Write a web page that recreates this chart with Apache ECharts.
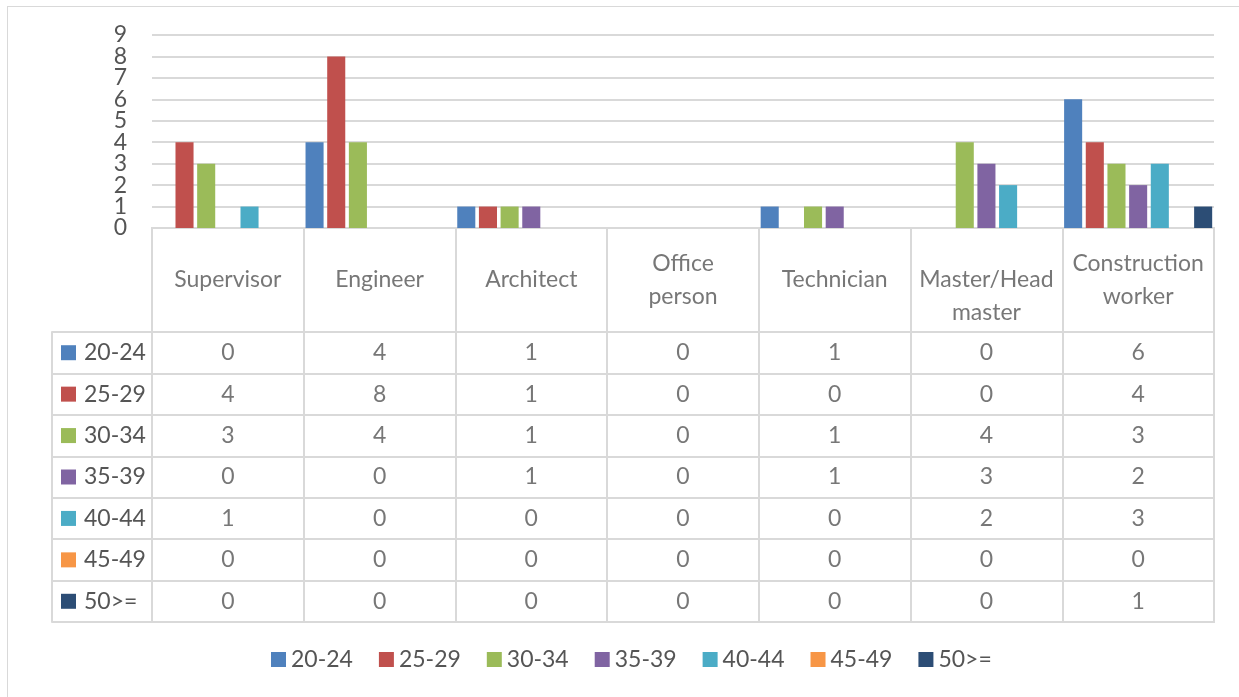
<!DOCTYPE html>
<html>
<head>
<meta charset="utf-8">
<script src="https://cdn.jsdelivr.net/npm/echarts@6/dist/echarts.min.js"></script>
<style>
  body { margin: 0; background: #fff; overflow: hidden; }
  #frame { position: absolute; left: 7px; top: 6px; width: 1300px; height: 800px; border: 1px solid #d9d9d9; }
  #main { position: absolute; left: 0; top: 0; width: 1239px; height: 697px; }
</style>
</head>
<body>
<div id="frame"></div>
<div id="main"></div>
<script>
// job titles (header row of the table)
var jobs = ['Supervisor', 'Engineer', 'Architect', 'Office person', 'Technician', 'Master/Head master', 'Construction worker']
var jobLabels = ['Supervisor', 'Engineer', 'Architect', 'Office\nperson', 'Technician', 'Master/Head\nmaster', 'Construction\nworker']

// age groups, one row each
var ages = ['20-24', '25-29', '30-34', '35-39', '40-44', '45-49', '50>=']
var colors = ['#4F81BD', '#C0504D', '#9BBB59', '#8064A2', '#4BACC6', '#F79646', '#2C4D75']

var v20_24 = [0, 4, 1, 0, 1, 0, 6]
var v25_29 = [4, 8, 1, 0, 0, 0, 4]
var v30_34 = [3, 4, 1, 0, 1, 4, 3]
var v35_39 = [0, 0, 1, 0, 1, 3, 2]
var v40_44 = [1, 0, 0, 0, 0, 2, 3]
var v45_49 = [0, 0, 0, 0, 0, 0, 0]
var v50_up = [0, 0, 0, 0, 0, 0, 1]
var values = [v20_24, v25_29, v30_34, v35_39, v40_44, v45_49, v50_up]

var yMax = 9

var font = 'Lato'
var txt = '#555555'
var lineCol = '#d9d9d9'

var series = []
ages.forEach(function(a, i) {
    series.push({
        name: a,
        type: 'bar',
        xAxisIndex: 0,
        yAxisIndex: 0,
        barGap: '20%',
        barCategoryGap: '2.4%',
        itemStyle: { color: colors[i] },
        data: values[i]
    })
})

// header cells
var headData = []
jobs.forEach(function(j, c) {
    var item = { value: [c, 0], name: jobLabels[c] }
    if (c == 5) item.label = { offset: [0, 16] }
    headData.push(item)
})
series.push({
    type: 'scatter',
    xAxisIndex: 1,
    yAxisIndex: 1,
    symbolSize: 1,
    silent: true,
    itemStyle: { color: 'transparent' },
    label: {
        show: true, position: 'inside', color: txt, fontFamily: font, fontSize: 23, lineHeight: 33,
        formatter: function(p) { return p.name }
    },
    data: headData
})

// value cells
var cellData = []
ages.forEach(function(a, r) {
    values[r].forEach(function(v, c) {
        cellData.push([c, r, v])
    })
})
series.push({
    type: 'scatter',
    xAxisIndex: 2,
    yAxisIndex: 2,
    symbolSize: 1,
    silent: true,
    itemStyle: { color: 'transparent' },
    label: {
        show: true, position: 'inside', color: txt, fontFamily: font, fontSize: 23,
        formatter: function(p) { return p.value[2] }
    },
    data: cellData
})

var rich = { t: { color: txt, fontFamily: font, fontSize: 23, padding: [0, 0, 0, 8] } }
colors.forEach(function(c, i) {
    rich['s' + i] = { width: 15, height: 15, backgroundColor: c }
})

// y labels are packed tight, so even and odd ticks go on two overlaid axes
function yLabels(odd) {
    return {
        color: txt, fontFamily: font, fontSize: 23, margin: 25,
        showMinLabel: true, showMaxLabel: true,
        formatter: function(v) { return (v % 2 == 1) == odd ? String(v) : '' }
    }
}

var myChart = echarts.init(document.getElementById('main'))
var option = {
    animation: false,
    legend: {
        data: ages,
        left: 271,
        top: 648,
        padding: 0,
        icon: 'rect',
        itemWidth: 15,
        itemHeight: 15,
        itemGap: 26,
        textStyle: { color: txt, fontFamily: font, fontSize: 23 }
    },
    grid: [
        { left: 152, right: 25, top: 35, bottom: 469 },
        { left: 152, right: 25, top: 228, height: 104, show: true, borderColor: lineCol, borderWidth: 2 },
        { left: 152, right: 25, top: 332, bottom: 75, show: true, borderColor: lineCol, borderWidth: 2 }
    ],
    xAxis: [
        {
            gridIndex: 0, type: 'category', data: jobs,
            axisLine: { show: false }, axisTick: { show: false }, axisLabel: { show: false }
        },
        {
            gridIndex: 1, type: 'category', data: jobs,
            axisLine: { show: false }, axisTick: { show: false }, axisLabel: { show: false },
            splitLine: { show: true, lineStyle: { color: lineCol, width: 2 } }
        },
        {
            gridIndex: 2, type: 'category', data: jobs,
            axisLine: { show: false }, axisTick: { show: false }, axisLabel: { show: false },
            splitLine: { show: true, lineStyle: { color: lineCol, width: 2 } }
        }
    ],
    yAxis: [
        {
            gridIndex: 0, type: 'value', position: 'left', min: 0, max: yMax, interval: 1,
            axisLine: { show: false }, axisTick: { show: false },
            axisLabel: yLabels(false),
            splitLine: { lineStyle: { color: lineCol, width: 2 } }
        },
        {
            gridIndex: 1, type: 'category', data: ['head'], show: false
        },
        {
            gridIndex: 2, type: 'category', data: ages, inverse: true, offset: 100,
            axisLine: { show: true, lineStyle: { color: lineCol, width: 2 } },
            axisTick: { show: true, inside: true, length: 100, lineStyle: { color: lineCol, width: 2 } },
            axisLabel: {
                inside: true, margin: 9, align: 'left',
                formatter: function(v, i) { return '{s' + i + '|}{t|' + v + '}' },
                rich: rich
            },
            splitLine: { show: true, lineStyle: { color: lineCol, width: 2 } }
        },
        {
            gridIndex: 0, type: 'value', position: 'left', min: 0, max: yMax, interval: 1,
            axisLine: { show: false }, axisTick: { show: false },
            axisLabel: yLabels(true),
            splitLine: { show: false }
        }
    ],
    series: series
}
myChart.setOption(option)
</script>
</body>
</html>
